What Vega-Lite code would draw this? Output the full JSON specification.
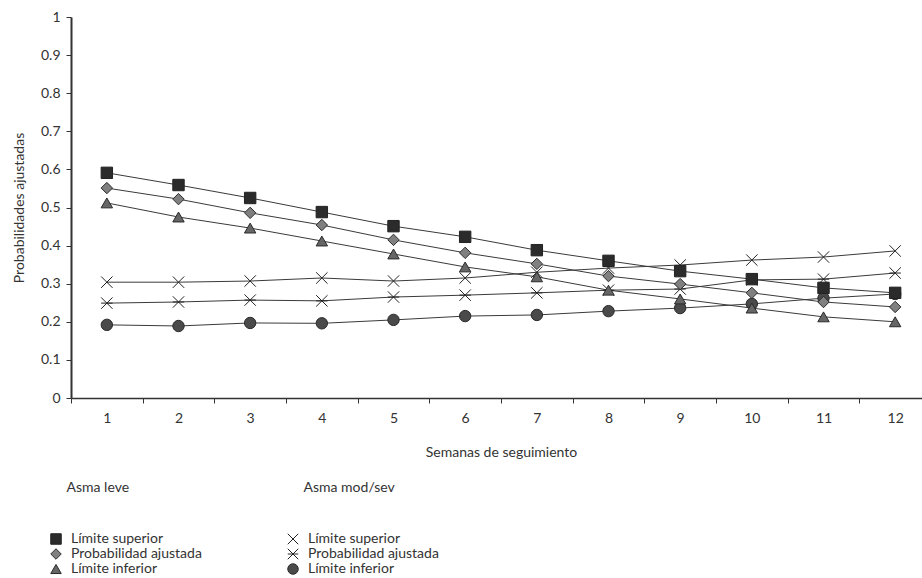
{
  "$schema": "https://vega.github.io/schema/vega-lite/v6.json",
  "width": 851,
  "height": 381,
  "autosize": {"type": "none"},
  "padding": {"left": 71, "top": 17, "right": 0, "bottom": 180},
  "background": "white",
  "config": {
    "font": "Lato",
    "view": {"stroke": null},
    "axis": {
      "grid": false,
      "domainColor": "#333333",
      "tickColor": "#333333",
      "labelColor": "#333333",
      "titleColor": "#333333",
      "labelFont": "Lato",
      "titleFont": "Lato",
      "labelFontSize": 14,
      "titleFontSize": 14,
      "titleFontWeight": "normal",
      "tickSize": 5
    },
    "legend": {
      "padding": 0,
      "titleFont": "Lato",
      "labelFont": "Lato",
      "titleFontSize": 14,
      "labelFontSize": 14,
      "titleFontWeight": "normal",
      "titleColor": "#333333",
      "labelColor": "#333333",
      "symbolStrokeWidth": 1,
      "symbolSize": 110,
      "rowPadding": -1.5,
      "labelOffset": 8
    }
  },
  "data": {
    "values": [
      {"g": "leve", "s": "Límite superior", "w": 1, "v": 0.591},
      {"g": "leve", "s": "Límite superior", "w": 2, "v": 0.559},
      {"g": "leve", "s": "Límite superior", "w": 3, "v": 0.525},
      {"g": "leve", "s": "Límite superior", "w": 4, "v": 0.488},
      {"g": "leve", "s": "Límite superior", "w": 5, "v": 0.451},
      {"g": "leve", "s": "Límite superior", "w": 6, "v": 0.423},
      {"g": "leve", "s": "Límite superior", "w": 7, "v": 0.388},
      {"g": "leve", "s": "Límite superior", "w": 8, "v": 0.360},
      {"g": "leve", "s": "Límite superior", "w": 9, "v": 0.333},
      {"g": "leve", "s": "Límite superior", "w": 10, "v": 0.312},
      {"g": "leve", "s": "Límite superior", "w": 11, "v": 0.289},
      {"g": "leve", "s": "Límite superior", "w": 12, "v": 0.276},
      {"g": "leve", "s": "Probabilidad ajustada", "w": 1, "v": 0.551},
      {"g": "leve", "s": "Probabilidad ajustada", "w": 2, "v": 0.522},
      {"g": "leve", "s": "Probabilidad ajustada", "w": 3, "v": 0.486},
      {"g": "leve", "s": "Probabilidad ajustada", "w": 4, "v": 0.454},
      {"g": "leve", "s": "Probabilidad ajustada", "w": 5, "v": 0.415},
      {"g": "leve", "s": "Probabilidad ajustada", "w": 6, "v": 0.381},
      {"g": "leve", "s": "Probabilidad ajustada", "w": 7, "v": 0.352},
      {"g": "leve", "s": "Probabilidad ajustada", "w": 8, "v": 0.320},
      {"g": "leve", "s": "Probabilidad ajustada", "w": 9, "v": 0.299},
      {"g": "leve", "s": "Probabilidad ajustada", "w": 10, "v": 0.276},
      {"g": "leve", "s": "Probabilidad ajustada", "w": 11, "v": 0.252},
      {"g": "leve", "s": "Probabilidad ajustada", "w": 12, "v": 0.239},
      {"g": "leve", "s": "Límite inferior", "w": 1, "v": 0.512},
      {"g": "leve", "s": "Límite inferior", "w": 2, "v": 0.475},
      {"g": "leve", "s": "Límite inferior", "w": 3, "v": 0.446},
      {"g": "leve", "s": "Límite inferior", "w": 4, "v": 0.412},
      {"g": "leve", "s": "Límite inferior", "w": 5, "v": 0.378},
      {"g": "leve", "s": "Límite inferior", "w": 6, "v": 0.344},
      {"g": "leve", "s": "Límite inferior", "w": 7, "v": 0.318},
      {"g": "leve", "s": "Límite inferior", "w": 8, "v": 0.283},
      {"g": "leve", "s": "Límite inferior", "w": 9, "v": 0.260},
      {"g": "leve", "s": "Límite inferior", "w": 10, "v": 0.236},
      {"g": "leve", "s": "Límite inferior", "w": 11, "v": 0.213},
      {"g": "leve", "s": "Límite inferior", "w": 12, "v": 0.200},
      {"g": "mod", "s": "Límite superior", "w": 1, "v": 0.304},
      {"g": "mod", "s": "Límite superior", "w": 2, "v": 0.304},
      {"g": "mod", "s": "Límite superior", "w": 3, "v": 0.307},
      {"g": "mod", "s": "Límite superior", "w": 4, "v": 0.315},
      {"g": "mod", "s": "Límite superior", "w": 5, "v": 0.307},
      {"g": "mod", "s": "Límite superior", "w": 6, "v": 0.315},
      {"g": "mod", "s": "Límite superior", "w": 7, "v": 0.330},
      {"g": "mod", "s": "Límite superior", "w": 8, "v": 0.341},
      {"g": "mod", "s": "Límite superior", "w": 9, "v": 0.349},
      {"g": "mod", "s": "Límite superior", "w": 10, "v": 0.362},
      {"g": "mod", "s": "Límite superior", "w": 11, "v": 0.370},
      {"g": "mod", "s": "Límite superior", "w": 12, "v": 0.386},
      {"g": "mod", "s": "Probabilidad ajustada", "w": 1, "v": 0.249},
      {"g": "mod", "s": "Probabilidad ajustada", "w": 2, "v": 0.252},
      {"g": "mod", "s": "Probabilidad ajustada", "w": 3, "v": 0.257},
      {"g": "mod", "s": "Probabilidad ajustada", "w": 4, "v": 0.255},
      {"g": "mod", "s": "Probabilidad ajustada", "w": 5, "v": 0.265},
      {"g": "mod", "s": "Probabilidad ajustada", "w": 6, "v": 0.270},
      {"g": "mod", "s": "Probabilidad ajustada", "w": 7, "v": 0.276},
      {"g": "mod", "s": "Probabilidad ajustada", "w": 8, "v": 0.283},
      {"g": "mod", "s": "Probabilidad ajustada", "w": 9, "v": 0.286},
      {"g": "mod", "s": "Probabilidad ajustada", "w": 10, "v": 0.310},
      {"g": "mod", "s": "Probabilidad ajustada", "w": 11, "v": 0.312},
      {"g": "mod", "s": "Probabilidad ajustada", "w": 12, "v": 0.328},
      {"g": "mod", "s": "Límite inferior", "w": 1, "v": 0.192},
      {"g": "mod", "s": "Límite inferior", "w": 2, "v": 0.189},
      {"g": "mod", "s": "Límite inferior", "w": 3, "v": 0.197},
      {"g": "mod", "s": "Límite inferior", "w": 4, "v": 0.196},
      {"g": "mod", "s": "Límite inferior", "w": 5, "v": 0.205},
      {"g": "mod", "s": "Límite inferior", "w": 6, "v": 0.215},
      {"g": "mod", "s": "Límite inferior", "w": 7, "v": 0.218},
      {"g": "mod", "s": "Límite inferior", "w": 8, "v": 0.228},
      {"g": "mod", "s": "Límite inferior", "w": 9, "v": 0.236},
      {"g": "mod", "s": "Límite inferior", "w": 10, "v": 0.247},
      {"g": "mod", "s": "Límite inferior", "w": 11, "v": 0.262},
      {"g": "mod", "s": "Límite inferior", "w": 12, "v": 0.273}
    ]
  },
  "encoding": {
    "x": {
      "field": "w",
      "type": "ordinal",
      "scale": {"type": "band", "range": [0, 860], "paddingInner": 0, "paddingOuter": 0},
      "axis": {
        "title": "Semanas de seguimiento",
        "labelAngle": 0,
        "tickBand": "extent",
        "labelPadding": 8,
        "titlePadding": 20,
        "domainWidth": 1.5
      }
    },
    "y": {
      "field": "v",
      "type": "quantitative",
      "scale": {"domain": [0, 1], "nice": false},
      "axis": {
        "title": "Probabilidades ajustadas",
        "values": [0, 0.1, 0.2, 0.3, 0.4, 0.5, 0.6, 0.7, 0.8, 0.9, 1],
        "format": ".1~f",
        "labelPadding": 6,
        "titlePadding": 14,
        "domainWidth": 2
      }
    }
  },
  "layer": [
    {
      "transform": [{"filter": "datum.g === 'mod'"}],
      "mark": {"type": "line", "color": "#3a3a3a", "strokeWidth": 1},
      "encoding": {"detail": {"field": "s"}}
    },
    {
      "transform": [{"filter": "datum.g === 'leve'"}],
      "mark": {"type": "line", "color": "#3a3a3a", "strokeWidth": 1},
      "encoding": {"detail": {"field": "s"}}
    },
    {
      "transform": [{"filter": "datum.g === 'mod'"}],
      "mark": {"type": "point", "filled": true, "size": 130, "strokeWidth": 1, "opacity": 1},
      "encoding": {
        "shape": {
          "field": "s",
          "type": "nominal",
          "scale": {
            "domain": ["Límite superior", "Probabilidad ajustada", "Límite inferior"],
            "range": ["M-1,-1L1,1M-1,1L1,-1", "M-1,-1L1,1M-1,1L1,-1M-1,0L1,0", "circle"]
          },
          "legend": {"title": "\u200b\u2003\u2002Asma mod/sev", "orient": "none", "legendX": 215, "legendY": 464, "direction": "vertical", "titlePadding": 37}
        },
        "fill": {
          "field": "s",
          "type": "nominal",
          "scale": {
            "domain": ["Límite superior", "Probabilidad ajustada", "Límite inferior"],
            "range": ["transparent", "transparent", "#4a4a4a"]
          },
          "legend": {"title": "\u200b\u2003\u2002Asma mod/sev", "orient": "none", "legendX": 215, "legendY": 464, "direction": "vertical", "titlePadding": 37}
        },
        "stroke": {
          "field": "s",
          "type": "nominal",
          "scale": {
            "domain": ["Límite superior", "Probabilidad ajustada", "Límite inferior"],
            "range": ["#222222", "#222222", "#2a2a2a"]
          },
          "legend": {"title": "\u200b\u2003\u2002Asma mod/sev", "orient": "none", "legendX": 215, "legendY": 464, "direction": "vertical", "titlePadding": 37}
        }
      }
    },
    {
      "transform": [{"filter": "datum.g === 'leve'"}],
      "mark": {"type": "point", "filled": true, "size": 130, "strokeWidth": 1, "opacity": 1},
      "encoding": {
        "shape": {
          "field": "s",
          "type": "nominal",
          "scale": {
            "domain": ["Límite superior", "Probabilidad ajustada", "Límite inferior"],
            "range": ["square", "diamond", "triangle-up"]
          },
          "legend": {"title": "\u200b\u2003\u2002Asma leve", "orient": "none", "legendX": -22, "legendY": 464, "direction": "vertical", "titlePadding": 37}
        },
        "fill": {
          "field": "s",
          "type": "nominal",
          "scale": {
            "domain": ["Límite superior", "Probabilidad ajustada", "Límite inferior"],
            "range": ["#2b2b2b", "#808080", "#666666"]
          },
          "legend": {"title": "\u200b\u2003\u2002Asma leve", "orient": "none", "legendX": -22, "legendY": 464, "direction": "vertical", "titlePadding": 37}
        },
        "stroke": {
          "field": "s",
          "type": "nominal",
          "scale": {
            "domain": ["Límite superior", "Probabilidad ajustada", "Límite inferior"],
            "range": ["#222222", "#2a2a2a", "#2a2a2a"]
          },
          "legend": {"title": "\u200b\u2003\u2002Asma leve", "orient": "none", "legendX": -22, "legendY": 464, "direction": "vertical", "titlePadding": 37}
        }
      }
    }
  ],
  "resolve": {"scale": {"shape": "independent", "fill": "independent", "stroke": "independent"}}
}
